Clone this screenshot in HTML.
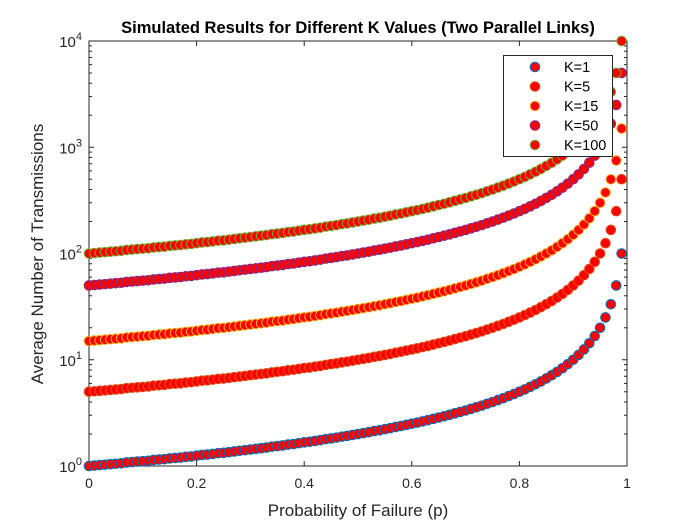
<!DOCTYPE html>
<html><head><meta charset="utf-8"><style>
body{margin:0;background:#fff;}
svg{display:block;font-family:"Liberation Sans",Arial,sans-serif;}
</style></head><body>
<svg id="chart" width="692" height="523">
<rect width="692" height="523" fill="#fff"/>
<text x="358" y="33" text-anchor="middle" font-size="16.5" font-weight="bold">Simulated Results for Different K Values (Two Parallel Links)</text>
<text x="358" y="516" text-anchor="middle" font-size="17" fill="#262626">Probability of Failure (p)</text>
<text transform="translate(43,254) rotate(-90)" text-anchor="middle" font-size="17" fill="#262626">Average Number of Transmissions</text>
<g id="axes"></g>
<g id="series"></g>
<g id="legend"></g>
</svg>
<script>
const kValues = [1, 5, 15, 50, 100];
const seriesLabels = ["K=1", "K=5", "K=15", "K=50", "K=100"];
const pValues = [0,0.01,0.02,0.03,0.04,0.05,0.06,0.07,0.08,0.09,0.1,0.11,0.12,0.13,0.14,0.15,0.16,0.17,0.18,0.19,0.2,0.21,0.22,0.23,0.24,0.25,0.26,0.27,0.28,0.29,0.3,0.31,0.32,0.33,0.34,0.35,0.36,0.37,0.38,0.39,0.4,0.41,0.42,0.43,0.44,0.45,0.46,0.47,0.48,0.49,0.5,0.51,0.52,0.53,0.54,0.55,0.56,0.57,0.58,0.59,0.6,0.61,0.62,0.63,0.64,0.65,0.66,0.67,0.68,0.69,0.7,0.71,0.72,0.73,0.74,0.75,0.76,0.77,0.78,0.79,0.8,0.81,0.82,0.83,0.84,0.85,0.86,0.87,0.88,0.89,0.9,0.91,0.92,0.93,0.94,0.95,0.96,0.97,0.98,0.99];
const baseTransmissions = [1.00,1.01,1.02,1.03,1.04,1.05,1.06,1.08,1.09,1.10,1.11,1.12,1.14,1.15,1.16,1.18,1.19,1.20,1.22,1.23,1.25,1.27,1.28,1.30,1.32,1.33,1.35,1.37,1.39,1.41,1.43,1.45,1.47,1.49,1.52,1.54,1.56,1.59,1.61,1.64,1.67,1.69,1.72,1.75,1.79,1.82,1.85,1.89,1.92,1.96,2.00,2.04,2.08,2.13,2.17,2.22,2.27,2.33,2.38,2.44,2.50,2.56,2.63,2.70,2.78,2.86,2.94,3.03,3.13,3.23,3.33,3.45,3.57,3.70,3.85,4.00,4.17,4.35,4.55,4.76,5.00,5.26,5.56,5.88,6.25,6.67,7.14,7.69,8.33,9.09,10.0,11.1,12.5,14.3,16.7,20.0,25.0,33.3,50.0,100];
const xTicks = [0, 0.2, 0.4, 0.6, 0.8, 1];
const xTickLabels = ["0", "0.2", "0.4", "0.6", "0.8", "1"];
const yDecades = [0, 1, 2, 3, 4];

const edgeColors = ["#0072BD", "#D95319", "#EDB120", "#7E2F8E", "#77AC30"];
const L = 89, R = 627, T = 41, B = 466;
const NS = "http://www.w3.org/2000/svg";
function xs(p){ return L + p * (R - L); }
function ys(v){ return B - Math.log10(v) / 4 * (B - T); }
function mk(tag, attrs, parent){ const e = document.createElementNS(NS, tag); for (const k in attrs) e.setAttribute(k, attrs[k]); parent.appendChild(e); return e; }

const axes = document.getElementById('axes');
let box = mk('rect', {x:L, y:T, width:R-L, height:B-T, fill:'none', stroke:'#262626', 'stroke-width':1}, axes);


xTicks.forEach((t, i) => {
  const x = xs(t);
  let tk = mk('path', {d:`M${x},${B}V${B-5}M${x},${T}V${T+5}`, stroke:'#262626', 'stroke-width':1}, axes);
  
  
  let lb = mk('text', {x:x, y:B+22, 'text-anchor':'middle', 'font-size':14, fill:'#262626'}, axes);
  lb.textContent = xTickLabels[i];
  
  
});
yDecades.forEach(d => {
  const y = ys(Math.pow(10, d));
  let tk = mk('path', {d:`M${L},${y}H${L+5}M${R},${y}H${R-5}`, stroke:'#262626', 'stroke-width':1}, axes);
  
  
  if (d < 4) for (let m = 2; m < 10; m++) {
    const ym = ys(m * Math.pow(10, d));
    let mt = mk('path', {d:`M${L},${ym}H${L+3}M${R},${ym}H${R-3}`, stroke:'#262626', 'stroke-width':1}, axes);
    
    
  }
  let lb = mk('text', {x:L-7, y:y+6, 'text-anchor':'end', 'font-size':15, fill:'#262626'}, axes);
  lb.textContent = '10';
  const sup = document.createElementNS(NS, 'tspan');
  sup.setAttribute('dy', '-7'); sup.setAttribute('font-size', '11');
  sup.textContent = String(d);
  lb.appendChild(sup);
  
  
});

const series = document.getElementById('series');
kValues.forEach((k, si) => {
  const g = mk('g', {}, series);
  
  
  pValues.forEach((p, i) => {
    const c = mk('circle', {cx:xs(p), cy:ys(k * baseTransmissions[i]), r:4.8, fill:'#FF0000', stroke:edgeColors[si], 'stroke-width':1}, g);
    
    
  });
});

const legend = document.getElementById('legend');
let lbx = mk('rect', {x:503.5, y:55.5, width:109, height:101, fill:'#fff', stroke:'#262626', 'stroke-width':1}, legend);


seriesLabels.forEach((s, i) => {
  const y = 67 + i * 19.5;
  const g = mk('g', {}, legend);
  
  
  mk('circle', {cx:535, cy:y, r:4.8, fill:'#FF0000', stroke:edgeColors[i], 'stroke-width':1}, g);
  const t = mk('text', {x:564, y:y+5, 'font-size':14.5, fill:'#000'}, g);
  t.textContent = s;
});
</script>
</body></html>
